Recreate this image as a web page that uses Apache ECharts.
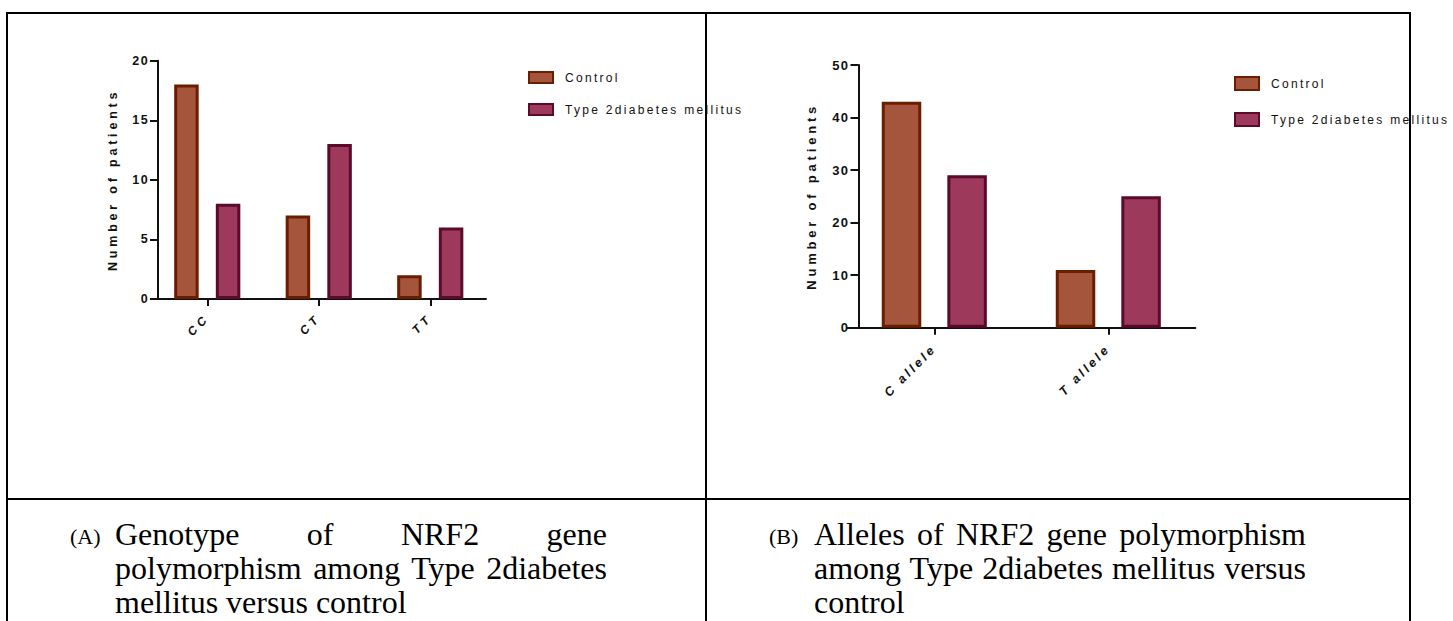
<!DOCTYPE html>
<html>
<head>
<meta charset="utf-8">
<script src="https://cdn.jsdelivr.net/npm/echarts@6/dist/echarts.min.js"></script>
<style>
  html, body { margin:0; padding:0; background:#fff; }
  body { width:1453px; height:621px; position:relative; overflow:hidden; }
  #chart { position:absolute; left:0; top:0; width:1453px; height:621px; }
  .ln { position:absolute; background:#000; z-index:5; }
  .cap { position:absolute; font-family:'Liberation Serif','Times New Roman',serif; color:#000; font-size:32px; line-height:34px; white-space:nowrap; z-index:4; }
  .just { text-align:justify; text-align-last:justify; width:492px; }
  .lab { font-size:22px; }
  text[style*="lsTick"] { letter-spacing:1.4px; }
  text[style*="lsName"] { letter-spacing:3.8px; }
  text[style*="lsCatA"] { letter-spacing:4px; }
  text[style*="lsCatB"] { letter-spacing:3px; }
  text[style*="lsLeg"]  { letter-spacing:2.3px; }
</style>
</head>
<body>
<div id="chart"></div>

<!-- table rules -->
<div class="ln" style="left:6px; top:11.5px; width:1405px; height:2px;"></div>
<div class="ln" style="left:5.7px; top:11.5px; width:2px; height:610px;"></div>
<div class="ln" style="left:704.7px; top:11.5px; width:2px; height:610px;"></div>
<div class="ln" style="left:1408.7px; top:11.5px; width:2px; height:610px;"></div>
<div class="ln" style="left:6px; top:498px; width:1404px; height:2px;"></div>

<!-- captions -->
<div class="cap lab" style="left:70px; top:520px;">(A)</div>
<div class="cap just" style="left:115px; top:517px;">Genotype of NRF2 gene</div>
<div class="cap just" style="left:115px; top:551px;">polymorphism among Type 2diabetes</div>
<div class="cap" style="left:115px; top:585px;">mellitus versus control</div>

<div class="cap lab" style="left:769px; top:520px;">(B)</div>
<div class="cap just" style="left:814px; top:517px;">Alleles of NRF2 gene polymorphism</div>
<div class="cap just" style="left:814px; top:551px;">among Type 2diabetes mellitus versus</div>
<div class="cap" style="left:814px; top:585px;">control</div>

<script>
// ---- data ----
const seriesNames = ['Control', 'Type 2diabetes mellitus'];
const genotypeCategories = ['CC', 'CT', 'TT'];
const genotypeControl = [18, 7, 2];
const genotypeT2DM = [8, 13, 6];
const genotypeAxis = [0, 20, 5];      // min, max, interval
const alleleCategories = ['C allele', 'T allele'];
const alleleControl = [43, 11];
const alleleT2DM = [29, 25];
const alleleAxis = [0, 50, 10];       // min, max, interval
const yAxisTitle = 'Number of patients';

// ---- styles ----
const fam = tag => tag + ', Liberation Sans, Arial, sans-serif';
const ink = '#111';
const controlStyle = { color: '#A4553C', borderColor: '#6B1D00', borderWidth: 3 };
const t2dmStyle = { color: '#9D3A5C', borderColor: '#5B0A2C', borderWidth: 3 };

function xAxisDef(gridIndex, data, fontSize, margin, tag) {
  return {
    type: 'category', gridIndex, data,
    axisLine: { show: true, lineStyle: { color: ink, width: 2 } },
    axisTick: { show: true, alignWithLabel: true, length: 7, lineStyle: { color: ink, width: 2 } },
    axisLabel: { rotate: 45, margin, color: ink, fontFamily: fam(tag), fontWeight: 'bold', fontStyle: 'italic', fontSize },
    splitLine: { show: false }
  };
}
function yAxisDef(gridIndex, ax, offset, nameGap, nameSize, tickSize) {
  return {
    type: 'value', gridIndex, min: ax[0], max: ax[1], interval: ax[2], offset,
    axisLine: { show: true, lineStyle: { color: ink, width: 2 } },
    axisTick: { show: true, length: 8, lineStyle: { color: ink, width: 2 } },
    axisLabel: { margin: 9, color: ink, fontFamily: fam('lsTick'), fontWeight: 'bold', fontSize: tickSize },
    splitLine: { show: false },
    name: yAxisTitle, nameLocation: 'middle', nameGap,
    nameTextStyle: { color: ink, fontFamily: fam('lsName'), fontWeight: 'bold', fontSize: nameSize }
  };
}
function legendDef(left, top, itemHeight, itemGap) {
  return {
    data: seriesNames, orient: 'vertical', left, top, padding: 0,
    itemWidth: 24, itemHeight, itemGap, icon: 'rect', selectedMode: false,
    textStyle: { color: ink, fontFamily: fam('lsLeg'), fontSize: 12, padding: [0, 0, 0, 7] }
  };
}

const chart = echarts.init(document.getElementById('chart'), null, { renderer: 'svg', width: 1453, height: 621 });
chart.setOption({
  animation: false,
  backgroundColor: 'transparent',
  legend: [legendDef(528, 71, 11, 19), legendDef(1234, 76, 13, 21)],
  grid: [
    { left: 151.5, top: 60.7, width: 334.5, height: 238.3, containLabel: false },
    { left: 847.3, top: 65, width: 348, height: 262.7, containLabel: false }
  ],
  xAxis: [xAxisDef(0, genotypeCategories, 12, 17, 'lsCatA'), xAxisDef(1, alleleCategories, 12.5, 19, 'lsCatB')],
  yAxis: [yAxisDef(0, genotypeAxis, -6.5, 39, 12.5, 12.5), yAxisDef(1, alleleAxis, -11.2, 41, 13, 13)],
  series: [
    { type: 'bar', name: seriesNames[0], xAxisIndex: 0, yAxisIndex: 0, data: genotypeControl, barWidth: 24.5, barGap: '70%', itemStyle: controlStyle },
    { type: 'bar', name: seriesNames[1], xAxisIndex: 0, yAxisIndex: 0, data: genotypeT2DM, barWidth: 24.5, barGap: '70%', itemStyle: t2dmStyle },
    { type: 'bar', name: seriesNames[0], xAxisIndex: 1, yAxisIndex: 1, data: alleleControl, barWidth: 39.5, barGap: '66%', itemStyle: controlStyle },
    { type: 'bar', name: seriesNames[1], xAxisIndex: 1, yAxisIndex: 1, data: alleleT2DM, barWidth: 39.5, barGap: '66%', itemStyle: t2dmStyle }
  ]
});
</script>
</body>
</html>
